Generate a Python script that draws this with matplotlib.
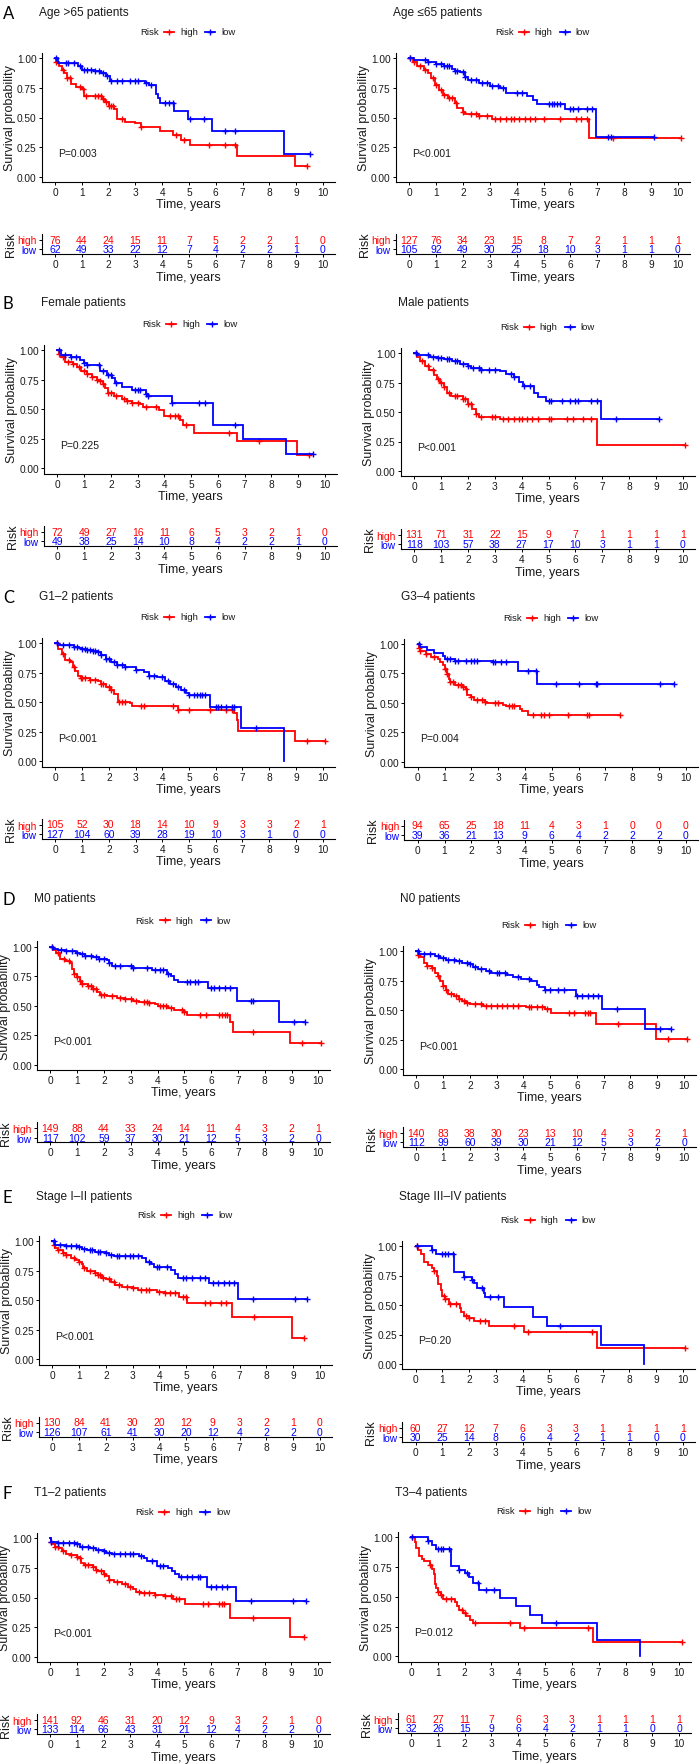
"""Kaplan-Meier survival curves by risk group across clinical subgroups."""

import matplotlib
import numpy as np

matplotlib.use("Agg")
from matplotlib import pyplot as plt  # noqa: E402

plt.rcParams["font.family"] = ["Liberation Sans", "DejaVu Sans"]

WIDTH, HEIGHT = 700, 1765
HIGH_COLOR = "#FF0000"
LOW_COLOR = "#0000FF"
YEARS = list(range(11))

# ---- A: age > 65 ----
age_old_high_t = [0, 0.05, 0.15, 0.25, 0.35, 0.45, 0.6, 0.8, 1.0, 1.1, 1.75, 1.85, 2.0, 2.2, 2.3, 2.6, 3.0, 3.2, 3.9, 4.4, 4.7, 5.05, 6.8, 8.95]
age_old_high_s = [1.0, 0.97, 0.93, 0.90, 0.87, 0.83, 0.78, 0.76, 0.74, 0.68, 0.655, 0.63, 0.595, 0.57, 0.49, 0.46, 0.45, 0.42, 0.39, 0.35, 0.31, 0.27, 0.175, 0.09]
age_old_high_c = [0.05, 0.3, 0.45, 0.55, 0.95, 1.05, 1.15, 1.5, 1.6, 1.7, 1.8, 1.9, 2.0, 2.1, 2.15, 2.5, 3.2, 4.5, 4.8, 5.75, 6.35, 6.7, 9.4]
age_old_low_t = [0, 0.1, 0.85, 1.0, 1.5, 1.7, 1.9, 2.05, 3.35, 3.5, 3.75, 3.85, 3.9, 4.45, 4.95, 5.85, 8.55]
age_old_low_s = [1.0, 0.96, 0.93, 0.90, 0.89, 0.87, 0.845, 0.81, 0.79, 0.77, 0.70, 0.66, 0.62, 0.555, 0.49, 0.385, 0.195]
age_old_low_c = [0.05, 0.4, 0.5, 0.7, 0.95, 1.1, 1.2, 1.35, 1.5, 1.65, 1.8, 1.95, 2.1, 2.3, 2.5, 2.8, 3.0, 3.1, 3.4, 3.6, 4.1, 4.25, 4.4, 5.05, 5.55, 6.35, 6.7, 9.5]
age_old_risk_high = [76, 44, 24, 15, 11, 7, 5, 2, 2, 1, 0]
age_old_risk_low = [62, 49, 33, 22, 12, 7, 4, 2, 2, 1, 0]

# ---- A: age <= 65 ----
age_young_high_t = [0, 0.15, 0.3, 0.55, 0.7, 0.8, 0.95, 1.1, 1.25, 1.45, 1.7, 1.8, 2.0, 2.1, 2.6, 3.1, 6.7]
age_young_high_s = [1.0, 0.97, 0.93, 0.90, 0.87, 0.83, 0.77, 0.73, 0.685, 0.66, 0.62, 0.58, 0.55, 0.53, 0.51, 0.49, 0.325]
age_young_high_c = [0.05, 0.2, 0.4, 0.6, 0.9, 1.0, 1.2, 1.3, 1.5, 1.6, 1.75, 2.0, 2.3, 2.5, 2.6, 2.9, 3.2, 3.4, 3.6, 3.8, 3.9, 4.1, 4.3, 4.5, 4.7, 5.0, 5.6, 6.2, 6.4, 6.6, 7.6, 10.1]
age_young_low_t = [0, 0.2, 0.7, 1.0, 1.3, 1.6, 1.7, 1.9, 2.1, 2.2, 2.6, 3.0, 3.4, 3.6, 4.4, 4.6, 4.75, 5.8, 6.95]
age_young_low_s = [1.0, 0.98, 0.97, 0.95, 0.93, 0.91, 0.89, 0.88, 0.84, 0.815, 0.79, 0.765, 0.745, 0.71, 0.68, 0.65, 0.615, 0.57, 0.34]
age_young_low_c = [0.05, 0.6, 0.7, 1.0, 1.2, 1.3, 1.4, 1.5, 1.7, 1.8, 2.0, 2.1, 2.3, 2.5, 2.7, 2.9, 3.1, 3.3, 3.5, 4.0, 4.2, 5.2, 5.3, 5.4, 5.5, 5.6, 6.0, 6.1, 6.3, 6.6, 6.8, 7.4, 7.5, 9.1]
age_young_risk_high = [127, 76, 34, 23, 15, 8, 7, 2, 1, 1, 1]
age_young_risk_low = [105, 92, 49, 30, 25, 18, 10, 3, 1, 1, 0]

# ---- B: female ----
female_high_t = [0, 0.05, 0.15, 0.3, 0.6, 0.75, 0.9, 1.1, 1.3, 1.5, 1.6, 1.7, 1.8, 1.9, 2.1, 2.4, 2.6, 2.8, 3.1, 3.2, 3.8, 4.0, 4.6, 4.7, 5.1, 6.7, 8.95]
female_high_s = [1.0, 0.97, 0.94, 0.90, 0.88, 0.86, 0.825, 0.80, 0.77, 0.75, 0.735, 0.71, 0.68, 0.64, 0.615, 0.585, 0.565, 0.555, 0.545, 0.52, 0.49, 0.445, 0.41, 0.37, 0.30, 0.23, 0.115]
female_high_c = [0.05, 0.2, 0.4, 0.6, 0.8, 1.0, 1.1, 1.3, 1.5, 1.6, 1.7, 1.9, 2.0, 2.2, 2.5, 2.6, 2.8, 3.0, 3.3, 3.7, 4.2, 4.4, 4.5, 4.8, 6.4, 7.55, 9.4]
female_low_t = [0, 0.15, 0.5, 0.85, 1.0, 1.1, 1.6, 1.85, 2.05, 2.15, 2.4, 2.8, 3.3, 3.4, 4.3, 5.8, 6.95, 8.55]
female_low_s = [1.0, 0.96, 0.94, 0.915, 0.89, 0.87, 0.825, 0.79, 0.76, 0.72, 0.69, 0.66, 0.63, 0.615, 0.55, 0.37, 0.245, 0.12]
female_low_c = [0.05, 0.3, 0.5, 0.7, 1.0, 1.1, 1.55, 1.7, 1.9, 2.0, 2.2, 2.9, 3.0, 3.1, 3.3, 3.4, 4.3, 5.3, 5.5, 6.65, 9.55]
female_risk_high = [72, 49, 27, 16, 11, 6, 5, 3, 2, 1, 0]
female_risk_low = [49, 38, 25, 14, 10, 8, 4, 2, 2, 1, 0]

# ---- B: male ----
male_high_t = [0, 0.1, 0.2, 0.4, 0.55, 0.75, 0.85, 0.95, 1.1, 1.2, 1.35, 1.8, 2.0, 2.15, 2.3, 2.4, 3.2, 6.8]
male_high_s = [1.0, 0.97, 0.93, 0.89, 0.86, 0.81, 0.78, 0.745, 0.71, 0.665, 0.635, 0.61, 0.57, 0.525, 0.485, 0.46, 0.44, 0.22]
male_high_c = [0.05, 0.3, 0.5, 0.7, 0.9, 1.0, 1.1, 1.3, 1.5, 1.6, 1.8, 1.9, 2.0, 2.1, 2.3, 2.5, 2.9, 3.0, 3.3, 3.5, 3.7, 3.9, 4.0, 4.2, 4.4, 4.6, 5.0, 5.1, 5.7, 5.9, 6.3, 6.6, 10.1]
male_low_t = [0, 0.1, 0.6, 0.9, 1.1, 1.4, 1.7, 2.0, 2.1, 2.5, 3.2, 3.4, 3.7, 3.9, 4.05, 4.45, 4.6, 4.9, 6.95]
male_low_s = [1.0, 0.98, 0.97, 0.96, 0.945, 0.93, 0.91, 0.89, 0.87, 0.86, 0.85, 0.825, 0.80, 0.755, 0.72, 0.665, 0.63, 0.59, 0.44]
male_low_c = [0.05, 0.5, 0.7, 0.9, 1.0, 1.2, 1.3, 1.5, 1.6, 1.8, 2.0, 2.2, 2.4, 2.5, 2.8, 3.0, 3.6, 3.7, 4.1, 4.3, 5.0, 5.1, 5.5, 5.8, 6.0, 6.1, 6.6, 6.8, 7.5, 9.1]
male_risk_high = [131, 71, 31, 22, 15, 9, 7, 1, 1, 1, 1]
male_risk_low = [118, 103, 57, 38, 27, 17, 10, 3, 1, 1, 0]

# ---- C: G1-2 ----
g12_high_t = [0, 0.1, 0.25, 0.35, 0.55, 0.65, 0.75, 0.85, 0.95, 1.3, 1.6, 1.7, 1.9, 2.1, 2.2, 2.35, 2.8, 2.85, 4.6, 6.7, 6.8, 6.85, 8.95]
g12_high_s = [1.0, 0.95, 0.91, 0.86, 0.84, 0.80, 0.76, 0.72, 0.70, 0.69, 0.68, 0.655, 0.625, 0.60, 0.565, 0.50, 0.49, 0.47, 0.43, 0.41, 0.345, 0.26, 0.175]
g12_high_c = [0.05, 0.3, 0.5, 0.7, 0.95, 1.0, 1.1, 1.3, 1.5, 1.7, 1.8, 2.0, 2.1, 2.4, 2.5, 2.6, 3.2, 3.3, 4.4, 4.6, 5.0, 5.8, 6.4, 6.6, 9.4, 10.1]
g12_low_t = [0, 0.1, 0.7, 0.9, 1.0, 1.2, 1.4, 1.6, 1.7, 1.9, 2.1, 2.3, 2.6, 3.0, 3.3, 3.5, 3.8, 4.1, 4.3, 4.5, 4.7, 4.9, 5.0, 5.8, 6.95, 8.55]
g12_low_s = [1.0, 0.98, 0.97, 0.96, 0.95, 0.94, 0.93, 0.92, 0.895, 0.865, 0.84, 0.815, 0.795, 0.77, 0.755, 0.725, 0.71, 0.675, 0.65, 0.625, 0.60, 0.58, 0.56, 0.46, 0.28, 0.0]
g12_low_c = [0.05, 0.3, 0.5, 0.7, 0.8, 1.0, 1.1, 1.2, 1.3, 1.4, 1.5, 1.6, 1.7, 1.9, 2.0, 2.2, 2.3, 2.5, 2.6, 3.0, 3.5, 3.7, 4.0, 4.2, 4.4, 4.6, 4.8, 5.0, 5.2, 5.3, 5.4, 5.5, 5.6, 6.0, 6.1, 6.2, 6.4, 6.6, 6.7, 7.5]
g12_risk_high = [105, 52, 30, 18, 14, 10, 9, 3, 3, 2, 1]
g12_risk_low = [127, 104, 60, 39, 28, 19, 10, 3, 1, 0, 0]

# ---- C: G3-4 ----
g34_high_t = [0, 0.05, 0.1, 0.3, 0.5, 0.75, 0.85, 0.95, 1.0, 1.1, 1.15, 1.2, 1.4, 1.7, 1.8, 1.85, 2.0, 2.1, 2.5, 2.6, 3.2, 3.3, 3.8, 3.9, 4.1]
g34_high_s = [1.0, 0.97, 0.94, 0.915, 0.89, 0.875, 0.85, 0.82, 0.79, 0.745, 0.705, 0.675, 0.655, 0.635, 0.615, 0.57, 0.55, 0.525, 0.51, 0.50, 0.485, 0.47, 0.45, 0.43, 0.40]
g34_high_c = [0.05, 0.1, 0.3, 0.6, 1.0, 1.1, 1.2, 1.3, 1.5, 1.6, 1.7, 1.8, 2.0, 2.2, 2.4, 2.5, 2.9, 3.0, 3.4, 3.5, 3.6, 4.3, 4.6, 4.7, 4.9, 5.6, 6.3, 6.4, 7.55]
g34_low_t = [0, 0.1, 0.35, 0.6, 0.95, 1.0, 1.4, 2.8, 3.75, 4.45]
g34_low_s = [1.0, 0.975, 0.95, 0.925, 0.90, 0.875, 0.855, 0.845, 0.77, 0.66]
g34_low_c = [0.05, 1.1, 1.2, 1.4, 1.5, 1.8, 2.0, 2.1, 2.2, 2.8, 2.9, 3.1, 3.3, 4.1, 4.4, 5.15, 6.0, 6.65, 6.7, 9.05, 9.55]
g34_risk_high = [94, 65, 25, 18, 11, 4, 3, 1, 0, 0, 0]
g34_risk_low = [39, 36, 21, 13, 9, 6, 4, 2, 2, 2, 0]

# ---- D: M0 ----
m0_high_t = [0, 0.1, 0.2, 0.35, 0.55, 0.75, 0.8, 0.9, 1.0, 1.1, 1.2, 1.4, 1.6, 1.75, 1.85, 2.1, 2.5, 2.8, 3.1, 3.3, 3.7, 3.9, 4.0, 4.4, 4.6, 5.0, 5.1, 6.7, 6.8, 8.95]
m0_high_s = [1.0, 0.97, 0.95, 0.90, 0.875, 0.86, 0.81, 0.77, 0.74, 0.71, 0.685, 0.665, 0.645, 0.62, 0.59, 0.58, 0.565, 0.555, 0.545, 0.53, 0.52, 0.515, 0.495, 0.48, 0.465, 0.45, 0.425, 0.36, 0.28, 0.19]
m0_high_c = [0.05, 0.3, 0.5, 0.7, 0.9, 1.0, 1.1, 1.2, 1.4, 1.5, 1.6, 1.7, 1.9, 2.0, 2.3, 2.6, 2.8, 3.0, 3.2, 3.5, 3.6, 3.7, 4.1, 4.2, 4.3, 4.5, 4.9, 5.0, 5.6, 5.8, 6.3, 6.4, 6.5, 6.6, 7.55, 9.4, 10.1]
m0_low_t = [0, 0.1, 0.3, 0.6, 0.95, 1.1, 1.3, 1.6, 1.8, 2.1, 2.2, 2.3, 3.1, 3.8, 4.35, 4.5, 4.6, 4.75, 5.9, 6.95, 8.55]
m0_low_s = [1.0, 0.98, 0.97, 0.96, 0.95, 0.935, 0.92, 0.91, 0.90, 0.89, 0.86, 0.84, 0.82, 0.80, 0.77, 0.75, 0.72, 0.70, 0.655, 0.54, 0.36]
m0_low_c = [0.05, 0.4, 0.6, 0.8, 1.0, 1.2, 1.3, 1.5, 1.7, 1.8, 2.0, 2.2, 2.4, 2.6, 3.0, 3.1, 3.6, 3.9, 4.1, 4.2, 4.4, 5.1, 5.2, 5.4, 5.5, 6.0, 6.1, 6.3, 6.5, 6.7, 7.5, 7.55, 9.1, 9.5]
m0_risk_high = [149, 88, 44, 33, 24, 14, 11, 4, 3, 2, 1]
m0_risk_low = [117, 102, 59, 37, 30, 21, 12, 5, 3, 2, 0]

# ---- D: N0 ----
n0_high_t = [0, 0.05, 0.15, 0.3, 0.4, 0.6, 0.7, 0.8, 0.9, 1.0, 1.1, 1.2, 1.4, 1.6, 1.7, 1.85, 2.0, 2.5, 4.1, 4.8, 5.05, 6.7, 8.95]
n0_high_s = [1.0, 0.97, 0.95, 0.905, 0.875, 0.855, 0.82, 0.79, 0.745, 0.71, 0.67, 0.64, 0.625, 0.60, 0.58, 0.565, 0.555, 0.54, 0.525, 0.51, 0.475, 0.385, 0.255]
n0_high_c = [0.05, 0.4, 0.6, 0.8, 1.0, 1.1, 1.3, 1.5, 1.6, 1.8, 1.9, 2.2, 2.4, 2.6, 2.8, 3.0, 3.2, 3.4, 3.6, 3.8, 4.2, 4.3, 4.5, 4.7, 4.9, 5.7, 5.9, 6.3, 6.4, 6.5, 7.55, 9.4, 10.1]
n0_low_t = [0, 0.1, 0.7, 0.9, 1.1, 1.5, 1.7, 2.0, 2.1, 2.3, 2.6, 2.8, 3.4, 3.6, 3.9, 4.3, 4.5, 4.6, 4.8, 5.95, 6.95, 8.55]
n0_low_s = [1.0, 0.975, 0.96, 0.94, 0.93, 0.92, 0.90, 0.89, 0.865, 0.85, 0.835, 0.82, 0.80, 0.785, 0.765, 0.745, 0.715, 0.695, 0.675, 0.625, 0.515, 0.345]
n0_low_c = [0.05, 0.3, 0.5, 0.8, 1.0, 1.2, 1.4, 1.6, 1.9, 2.0, 2.2, 2.4, 2.7, 3.0, 3.1, 3.3, 3.8, 4.2, 4.8, 5.0, 5.3, 5.5, 6.0, 6.2, 6.4, 6.6, 6.8, 7.5, 9.1, 9.5]
n0_risk_high = [140, 83, 38, 30, 23, 13, 10, 4, 3, 2, 1]
n0_risk_low = [112, 99, 60, 39, 30, 21, 12, 5, 3, 2, 0]

# ---- E: stage I-II ----
early_high_t = [0, 0.05, 0.1, 0.2, 0.4, 0.5, 0.7, 0.85, 1.0, 1.1, 1.15, 1.3, 1.6, 1.7, 1.85, 2.0, 2.2, 2.35, 2.6, 3.0, 3.2, 3.9, 4.2, 4.75, 5.05, 6.7, 8.95]
early_high_s = [1.0, 0.97, 0.945, 0.925, 0.90, 0.885, 0.86, 0.84, 0.82, 0.805, 0.775, 0.745, 0.73, 0.71, 0.69, 0.675, 0.65, 0.625, 0.61, 0.60, 0.585, 0.57, 0.56, 0.53, 0.48, 0.36, 0.18]
early_high_c = [0.05, 0.2, 0.4, 0.5, 0.8, 1.0, 1.2, 1.4, 1.6, 1.7, 1.8, 1.9, 2.1, 2.3, 2.5, 2.8, 3.0, 3.3, 3.5, 3.6, 4.0, 4.2, 4.4, 4.6, 4.9, 5.0, 5.7, 5.9, 6.3, 6.5, 7.55, 9.4]
early_low_t = [0, 0.1, 0.5, 1.0, 1.1, 1.3, 1.6, 2.0, 2.1, 2.3, 3.35, 3.5, 3.7, 3.8, 4.45, 4.6, 4.7, 5.85, 6.95]
early_low_s = [1.0, 0.97, 0.96, 0.95, 0.935, 0.92, 0.91, 0.90, 0.885, 0.87, 0.855, 0.825, 0.805, 0.78, 0.755, 0.72, 0.69, 0.645, 0.51]
early_low_c = [0.05, 0.3, 0.5, 0.7, 0.9, 1.0, 1.2, 1.4, 1.5, 1.7, 1.8, 2.0, 2.2, 2.4, 2.5, 2.7, 2.9, 3.0, 3.2, 3.6, 3.9, 4.0, 4.3, 4.9, 5.0, 5.2, 5.5, 5.7, 6.0, 6.2, 6.4, 6.6, 6.8, 7.5, 9.05, 9.5]
early_risk_high = [130, 84, 41, 30, 20, 12, 9, 3, 2, 1, 0]
early_risk_low = [126, 107, 61, 41, 30, 20, 12, 4, 2, 2, 0]

# ---- E: stage III-IV ----
late_high_t = [0, 0.1, 0.2, 0.3, 0.45, 0.6, 0.7, 0.8, 0.85, 0.95, 1.0, 1.1, 1.25, 1.65, 1.7, 1.8, 2.0, 2.2, 2.75, 4.05, 6.8]
late_high_s = [1.0, 0.965, 0.93, 0.865, 0.835, 0.81, 0.785, 0.75, 0.68, 0.625, 0.58, 0.55, 0.505, 0.475, 0.44, 0.405, 0.39, 0.365, 0.32, 0.27, 0.135]
late_high_c = [0.05, 0.7, 1.05, 1.1, 1.3, 1.5, 1.9, 2.0, 2.4, 2.6, 3.7, 4.2, 6.6, 10.1]
late_low_t = [0, 0.6, 0.75, 1.45, 1.8, 2.1, 2.2, 2.3, 2.55, 2.6, 3.3, 4.4, 4.9, 6.95, 8.55]
late_low_s = [1.0, 0.97, 0.935, 0.78, 0.74, 0.71, 0.685, 0.645, 0.60, 0.565, 0.48, 0.40, 0.32, 0.16, 0.0]
late_low_c = [0.05, 0.6, 1.0, 1.1, 1.2, 1.4, 1.8, 2.1, 2.5, 2.8, 3.1, 5.4]
late_risk_high = [60, 27, 12, 7, 6, 3, 3, 1, 1, 1, 1]
late_risk_low = [30, 25, 14, 8, 6, 4, 2, 1, 1, 0, 0]

# ---- F: T1-2 ----
t12_high_t = [0, 0.05, 0.1, 0.2, 0.35, 0.45, 0.6, 0.8, 1.0, 1.1, 1.15, 1.25, 1.6, 1.7, 1.8, 2.0, 2.1, 2.2, 2.4, 2.7, 2.9, 3.1, 3.2, 3.4, 3.9, 4.3, 4.6, 5.05, 6.7, 8.95]
t12_high_s = [1.0, 0.97, 0.95, 0.93, 0.915, 0.89, 0.87, 0.855, 0.84, 0.83, 0.79, 0.775, 0.755, 0.735, 0.72, 0.70, 0.685, 0.65, 0.63, 0.61, 0.585, 0.575, 0.55, 0.54, 0.52, 0.515, 0.49, 0.445, 0.33, 0.17]
t12_high_c = [0.05, 0.2, 0.3, 0.5, 0.8, 1.0, 1.1, 1.3, 1.4, 1.6, 1.7, 1.9, 2.0, 2.2, 2.5, 2.8, 3.0, 3.3, 3.5, 3.7, 3.9, 4.3, 4.5, 4.7, 4.8, 5.7, 5.9, 6.3, 6.4, 6.5, 7.55, 9.45]
t12_low_t = [0, 0.05, 0.3, 1.0, 1.1, 1.5, 1.7, 2.0, 2.1, 2.3, 3.3, 3.5, 3.6, 4.0, 4.4, 4.55, 4.65, 4.8, 5.85, 6.95]
t12_low_s = [1.0, 0.97, 0.96, 0.95, 0.93, 0.92, 0.905, 0.89, 0.875, 0.865, 0.85, 0.83, 0.81, 0.77, 0.75, 0.725, 0.70, 0.675, 0.59, 0.47]
t12_low_c = [0.05, 0.3, 0.5, 0.7, 0.9, 1.0, 1.2, 1.4, 1.6, 1.8, 2.0, 2.2, 2.4, 2.6, 2.8, 3.0, 3.1, 3.4, 3.8, 4.1, 4.2, 4.9, 5.1, 5.3, 5.5, 5.6, 6.0, 6.2, 6.4, 6.6, 7.5, 9.05, 9.55]
t12_risk_high = [141, 92, 46, 31, 20, 12, 9, 3, 2, 1, 0]
t12_risk_low = [133, 114, 66, 43, 31, 21, 12, 4, 2, 2, 0]

# ---- F: T3-4 ----
t34_high_t = [0, 0.15, 0.2, 0.3, 0.4, 0.5, 0.7, 0.8, 0.85, 0.9, 0.95, 1.0, 1.1, 1.2, 1.65, 1.7, 1.8, 1.95, 2.05, 2.2, 2.3, 4.05, 6.8]
t34_high_s = [1.0, 0.96, 0.91, 0.845, 0.82, 0.80, 0.77, 0.735, 0.69, 0.605, 0.575, 0.54, 0.515, 0.485, 0.46, 0.425, 0.385, 0.365, 0.34, 0.305, 0.28, 0.24, 0.12]
t34_high_c = [0.05, 0.7, 1.0, 1.1, 1.3, 1.5, 1.9, 2.0, 2.4, 3.7, 4.2, 6.6, 10.1]
t34_low_t = [0, 0.65, 0.8, 0.95, 1.5, 1.8, 2.0, 2.15, 2.3, 2.55, 3.3, 3.9, 4.45, 4.9, 6.95, 8.55]
t34_low_s = [1.0, 0.97, 0.935, 0.905, 0.76, 0.725, 0.70, 0.67, 0.615, 0.56, 0.49, 0.42, 0.35, 0.28, 0.14, 0.0]
t34_low_c = [0.05, 0.65, 1.0, 1.1, 1.2, 1.4, 1.8, 2.1, 2.5, 2.8, 3.1, 5.4]
t34_risk_high = [61, 27, 11, 7, 6, 3, 3, 1, 1, 1, 1]
t34_risk_low = [32, 26, 15, 9, 6, 4, 2, 1, 1, 0, 0]

letters = ["A", "", "B", "", "C", "", "D", "", "E", "", "F", ""]
titles = [
    "Age >65 patients", "Age \u226465 patients",
    "Female patients", "Male patients",
    "G1\u20132 patients", "G3\u20134 patients",
    "M0 patients", "N0 patients",
    "Stage I\u2013II patients", "Stage III\u2013IV patients",
    "T1\u20132 patients", "T3\u20134 patients",
]
p_values = ["P=0.003", "P<0.001", "P=0.225", "P<0.001", "P<0.001", "P=0.004",
            "P<0.001", "P<0.001", "P<0.001", "P=0.20", "P<0.001", "P=0.012"]

curves = [
    ((age_old_high_t, age_old_high_s, age_old_high_c), (age_old_low_t, age_old_low_s, age_old_low_c), age_old_risk_high, age_old_risk_low),
    ((age_young_high_t, age_young_high_s, age_young_high_c), (age_young_low_t, age_young_low_s, age_young_low_c), age_young_risk_high, age_young_risk_low),
    ((female_high_t, female_high_s, female_high_c), (female_low_t, female_low_s, female_low_c), female_risk_high, female_risk_low),
    ((male_high_t, male_high_s, male_high_c), (male_low_t, male_low_s, male_low_c), male_risk_high, male_risk_low),
    ((g12_high_t, g12_high_s, g12_high_c), (g12_low_t, g12_low_s, g12_low_c), g12_risk_high, g12_risk_low),
    ((g34_high_t, g34_high_s, g34_high_c), (g34_low_t, g34_low_s, g34_low_c), g34_risk_high, g34_risk_low),
    ((m0_high_t, m0_high_s, m0_high_c), (m0_low_t, m0_low_s, m0_low_c), m0_risk_high, m0_risk_low),
    ((n0_high_t, n0_high_s, n0_high_c), (n0_low_t, n0_low_s, n0_low_c), n0_risk_high, n0_risk_low),
    ((early_high_t, early_high_s, early_high_c), (early_low_t, early_low_s, early_low_c), early_risk_high, early_risk_low),
    ((late_high_t, late_high_s, late_high_c), (late_low_t, late_low_s, late_low_c), late_risk_high, late_risk_low),
    ((t12_high_t, t12_high_s, t12_high_c), (t12_low_t, t12_low_s, t12_low_c), t12_risk_high, t12_risk_low),
    ((t34_high_t, t34_high_s, t34_high_c), (t34_low_t, t34_low_s, t34_low_c), t34_risk_high, t34_risk_low),
]

# pixel layout: x of year 0, x of year 10, y of survival 1.00, y of survival 0.00
geometry = [
    (55.0, 323.0, 59.0, 178.0), (409.0, 678.0, 59.0, 178.0),
    (57.3, 325.0, 351.0, 469.3), (414.3, 682.7, 354.0, 472.0),
    (55.3, 322.7, 644.0, 762.3), (417.7, 685.7, 645.0, 762.7),
    (50.3, 318.3, 947.7, 1066.0), (416.3, 684.0, 952.3, 1070.3),
    (52.3, 320.0, 1242.0, 1360.3), (415.7, 682.7, 1247.0, 1365.0),
    (50.0, 318.3, 1539.3, 1657.7), (411.0, 679.3, 1538.3, 1657.3),
]
title_rows = [13, 13, 303, 303, 597, 597, 899, 899, 1197, 1197, 1493, 1493]

TEXT = "#1a1a1a"


def px_axes(figure, left, top, right, bottom):
    return figure.add_axes([left / WIDTH, 1 - bottom / HEIGHT,
                            (right - left) / WIDTH, (bottom - top) / HEIGHT])


def draw_curve(axis, times, surv, cens, color):
    times = np.asarray(times, dtype=float)
    surv = np.asarray(surv, dtype=float)
    cens = np.asarray(cens, dtype=float)
    end = max(times[-1], cens.max()) if surv[-1] > 0 else times[-1]
    axis.step(np.append(times, end), np.append(surv, surv[-1]), where="post",
              color=color, lw=1.3, solid_joinstyle="miter")
    index = np.searchsorted(times, cens, side="right") - 1
    axis.plot(cens, surv[index], ls="none", marker="+", ms=5, mew=1.0, color=color)


def style_axis(axis):
    for side in ("top", "right"):
        axis.spines[side].set_visible(False)
    for side in ("left", "bottom"):
        axis.spines[side].set_linewidth(0.8)
        axis.spines[side].set_color("black")
    axis.tick_params(length=2.3, width=0.7, pad=1.4, labelsize=7.3,
                     colors="black", labelcolor=TEXT)
    axis.set_facecolor("none")


figure = plt.figure(figsize=(WIDTH / 100, HEIGHT / 100), dpi=100)
overlay = figure.add_axes([0, 0, 1, 1])
overlay.set_xlim(0, WIDTH)
overlay.set_ylim(HEIGHT, 0)
overlay.axis("off")

for i, ((high, low, risk_high, risk_low), (x0, x10, y1, y0)) in enumerate(zip(curves, geometry)):
    kx = (x10 - x0) / 10.0
    ky = y0 - y1
    left = x0 - 0.5 * kx
    right = x0 + 10.45 * kx
    top = y1 - 0.045 * ky
    bottom = y0 + 0.045 * ky
    center = (left + right) / 2

    main = px_axes(figure, left, top, right, bottom)
    style_axis(main)
    main.set_xlim(-0.5, 10.45)
    main.set_ylim(-0.045, 1.045)
    main.set_xticks(YEARS)
    main.set_yticks([0, 0.25, 0.5, 0.75, 1.0], labels=["0.00", "0.25", "0.50", "0.75", "1.00"])
    draw_curve(main, *high, HIGH_COLOR)
    draw_curve(main, *low, LOW_COLOR)
    main.text(0.1, 0.2, p_values[i], fontsize=7.5, color=TEXT, va="center", ha="left")

    overlay.text(left - 32, (top + bottom) / 2, "Survival probability", rotation=90,
                 fontsize=9, color=TEXT, ha="center", va="center")
    overlay.text(center, bottom + 22, "Time, years", fontsize=9, color=TEXT,
                 ha="center", va="center")

    # title and panel letter
    overlay.text(left - 3, title_rows[i], titles[i], fontsize=8.6, color=TEXT,
                 ha="left", va="center")
    if letters[i]:
        overlay.text(3, title_rows[i] + 1, letters[i], fontsize=12, color="black",
                     ha="left", va="center", family=["Lato", "DejaVu Sans"])

    # legend
    ly = y1 - 26.5
    overlay.text(center - 48, ly, "Risk", fontsize=6.8, color=TEXT, ha="left", va="center")
    for offset, color, label in ((-24, HIGH_COLOR, "high"), (17, LOW_COLOR, "low")):
        overlay.plot([center + offset, center + offset + 10], [ly, ly], color=color, lw=1.3)
        overlay.plot(center + offset + 5, ly, marker="+", ms=4.5, mew=1.0, color=color)
        overlay.text(center + offset + 16, ly, label, fontsize=6.8, color=TEXT,
                     ha="left", va="center")

    # risk table
    row_high = y1 + 181.5
    table = px_axes(figure, left, row_high - 6, right, row_high + 14)
    style_axis(table)
    table.set_xlim(-0.5, 10.45)
    table.set_ylim(-0.47, 1.63)
    table.set_xticks(YEARS)
    table.set_yticks([1, 0], labels=["high", "low"])
    for tick_label, color in zip(table.get_yticklabels(), (HIGH_COLOR, LOW_COLOR)):
        tick_label.set_color(color)
    for year, n_high, n_low in zip(YEARS, risk_high, risk_low):
        table.text(year, 1, str(n_high), color=HIGH_COLOR, fontsize=7.5, ha="center", va="center")
        table.text(year, 0, str(n_low), color=LOW_COLOR, fontsize=7.5, ha="center", va="center")
    overlay.text(left - 31, row_high + 4.5, "Risk", rotation=90, fontsize=9,
                 color=TEXT, ha="center", va="center")
    overlay.text(center, row_high + 37, "Time, years", fontsize=9, color=TEXT,
                 ha="center", va="center")

figure.savefig("out.png", dpi=100, facecolor="white")
plt.close(figure)
